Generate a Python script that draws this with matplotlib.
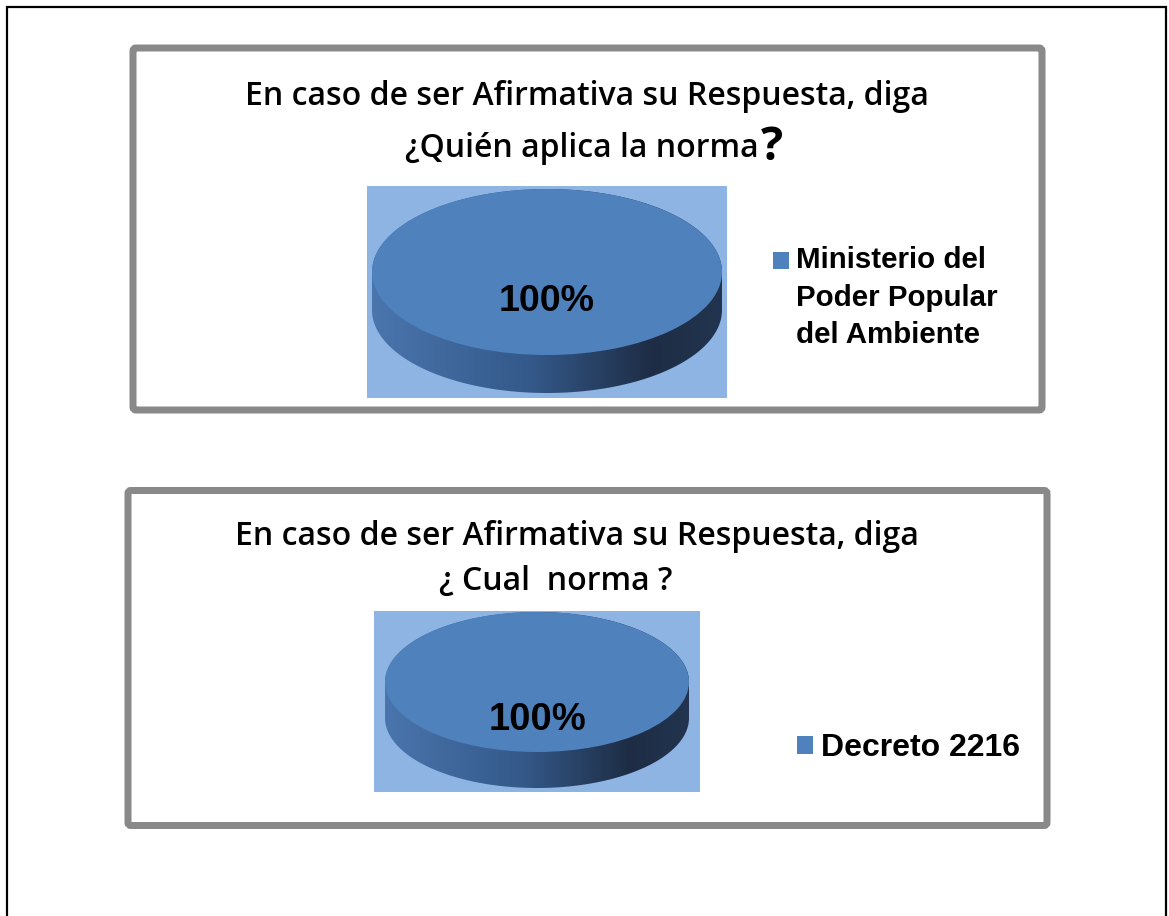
import matplotlib
matplotlib.use('Agg')
import matplotlib.pyplot as plt
import numpy as np
from matplotlib.patches import Rectangle, FancyBboxPatch, Polygon
from matplotlib.legend_handler import HandlerPatch
from matplotlib.colors import LinearSegmentedColormap
from matplotlib.font_manager import FontProperties

# ---------------- data ----------------
title1_line1 = "En caso de ser Afirmativa su Respuesta, diga"
title1_line2 = "¿Quién aplica la norma"
title1_qmark = "?"
categories1 = ["Ministerio del\nPoder Popular\ndel Ambiente"]
values1 = [100]

title2_line1 = "En caso de ser Afirmativa su Respuesta, diga"
title2_line2 = "¿ Cual  norma ?"
categories2 = ["Decreto 2216"]
values2 = [100]

# ---------------- style ----------------
W, H, DPI = 1169, 916, 100
TOP = '#4f81bd'
PLOT_BG = '#8eb4e3'
BORDER = '#898989'
TITLE_FONT = 'Open Sans'
LABEL_FONT = 'Liberation Sans'

fig = plt.figure(figsize=(W / DPI, H / DPI), dpi=DPI)
fig.patch.set_facecolor('white')
renderer = fig.canvas.get_renderer()

bg = fig.add_axes([0, 0, 1, 1], zorder=0)
bg.set_xlim(0, W)
bg.set_ylim(H, 0)
bg.axis('off')

px2pt = 72 / DPI

# outer black frame (open at the bottom)
bg.plot([7, 7, 1166, 1166], [H + 5, 7, 7, H + 5], color='black',
        lw=2.2 * px2pt, solid_joinstyle='miter', zorder=1)

# grey chart frames
for (x0, y0, x1, y1) in [(133, 48, 1042, 410), (128, 490.5, 1047, 825.5)]:
    bg.add_patch(FancyBboxPatch((x0, y0), x1 - x0, y1 - y0,
                                boxstyle='round,pad=0,rounding_size=3',
                                facecolor='white', edgecolor=BORDER,
                                lw=7 * px2pt, zorder=1))


def fit_width(t, target):
    bb = t.get_window_extent(renderer)
    t.set_fontsize(t.get_fontsize() * target / bb.width)


# ---------------- titles ----------------
t = bg.text(587, 105, title1_line1, ha='center', va='baseline',
            family=TITLE_FONT, weight='semibold', fontsize=20, color='black')
fit_width(t, 682)
fs_title = t.get_fontsize()

t2 = bg.text(0, 157, title1_line2, ha='left', va='baseline',
             family=TITLE_FONT, weight='semibold', fontsize=fs_title)
q = bg.text(0, 160, title1_qmark, ha='left', va='baseline',
            family=TITLE_FONT, weight='bold', fontsize=fs_title * 1.45)
w2 = t2.get_window_extent(renderer).width
wq = q.get_window_extent(renderer).width
gx = 594 - (w2 + wq + 2) / 2
t2.set_x(gx)
q.set_x(gx + w2 + 2)

t3 = bg.text(577, 545, title2_line1, ha='center', va='baseline',
             family=TITLE_FONT, weight='semibold', fontsize=fs_title)
t4 = bg.text(556, 590, title2_line2, ha='center', va='baseline',
             family=TITLE_FONT, weight='semibold', fontsize=fs_title)


# ---------------- 3-D looking pies ----------------
side_cmap = LinearSegmentedColormap.from_list(
    'side', [(0.0, '#4a75ad'), (0.45, '#34598a'), (0.8, '#1e2d45'), (1.0, '#22344f')])


def draw_pie(rect, center, a, b, depth, values, pctdist, label_w):
    x0, y0, x1, y1 = rect
    ax = fig.add_axes([x0 / W, 1 - y1 / H, (x1 - x0) / W, (y1 - y0) / H], zorder=2)
    ax.set_facecolor(PLOT_BG)
    cx, cy = center
    d = depth / b
    tt = np.linspace(np.pi, 2 * np.pi, 200)
    lower = np.column_stack([np.cos(tt), np.sin(tt) - d])
    tt2 = np.linspace(0, np.pi, 200)
    upper = np.column_stack([np.cos(tt2), np.sin(tt2)])
    poly = Polygon(np.vstack([lower, upper]), closed=True,
                   facecolor='none', edgecolor='none')
    ax.add_patch(poly)
    grad = np.linspace(0, 1, 256).reshape(1, -1)
    im = ax.imshow(grad, extent=[-1, 1, -1 - d, 1], aspect='auto',
                   cmap=side_cmap, zorder=1, interpolation='bilinear')
    im.set_clip_path(poly)
    wedges, texts, autotexts = ax.pie(
        values, colors=[TOP], startangle=90, autopct='%1.0f%%',
        pctdistance=pctdist, frame=True,
        wedgeprops=dict(linewidth=0, zorder=2),
        textprops=dict(family=LABEL_FONT, weight='bold', fontsize=28,
                       color='black', zorder=3))
    fit_width(autotexts[0], label_w)
    ax.set_aspect('auto')
    ax.set_xlim(-(cx - x0) / a, (x1 - cx) / a)
    ax.set_ylim(-(y1 - cy) / b, (cy - y0) / b)
    ax.set_xticks([])
    ax.set_yticks([])
    for s in ax.spines.values():
        s.set_visible(False)
    return ax, wedges


ax1, w1 = draw_pie((367, 186, 727, 398), (547, 272), 175, 83, 38, values1, 0.36, 96)
ax2, w2p = draw_pie((374, 611, 700, 792), (537, 682), 152, 70, 36, values2, 0.55, 98)


# ---------------- legends ----------------
leg_px1 = 29.5
leg_fs1 = leg_px1 * px2pt
step_px = 37.5
prop1 = FontProperties(family=LABEL_FONT, weight='bold', size=leg_fs1)
_, lp_h, lp_d = renderer.get_text_width_height_descent("lp", prop1, ismath=False)
linesp = (step_px - lp_d) / (lp_h - lp_d)


def make_handler(nlines, spacing_pt):
    def patch_func(legend, orig_handle, xdescent, ydescent, width, height, fontsize):
        shift = (nlines - 1) / 2 * spacing_pt
        return Rectangle((-xdescent, -ydescent + shift), width, height)
    return HandlerPatch(patch_func=patch_func)


leg1 = fig.legend(w1, categories1, loc='upper left',
                  bbox_to_anchor=(773 / W, 1 - 246 / H), bbox_transform=fig.transFigure,
                  frameon=False, borderpad=0, borderaxespad=0,
                  prop=prop1,
                  handlelength=16 * px2pt / leg_fs1, handleheight=16 * px2pt / leg_fs1,
                  handletextpad=7 * px2pt / leg_fs1,
                  handler_map={w1[0]: make_handler(3, step_px * px2pt)})
for txt in leg1.get_texts():
    txt.set_linespacing(linesp)

leg_px2 = 32
leg_fs2 = leg_px2 * px2pt
leg2 = fig.legend(w2p, categories2, loc='upper left',
                  bbox_to_anchor=(797 / W, 1 - 733 / H), bbox_transform=fig.transFigure,
                  frameon=False, borderpad=0, borderaxespad=0,
                  prop=dict(family=LABEL_FONT, weight='bold', size=leg_fs2),
                  handlelength=16 * px2pt / leg_fs2, handleheight=16 * px2pt / leg_fs2,
                  handletextpad=8 * px2pt / leg_fs2)

fig.savefig('out.png', dpi=DPI, facecolor='white')
